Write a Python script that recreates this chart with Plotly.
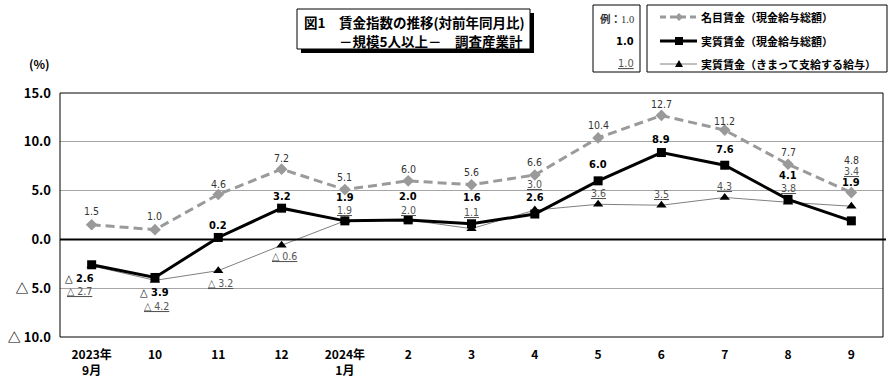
import plotly.graph_objects as go

# ---------------- data ----------------
categories = ["2023年<br>9月", "10", "11", "12", "2024年<br>1月", "2", "3", "4",
              "5", "6", "7", "8", "9"]
nominal = [1.5, 1.0, 4.6, 7.2, 5.1, 6.0, 5.6, 6.6, 10.4, 12.7, 11.2, 7.7, 4.8]
real_total = [-2.6, -3.9, 0.2, 3.2, 1.9, 2.0, 1.6, 2.6, 6.0, 8.9, 7.6, 4.1, 1.9]
real_fixed = [-2.7, -4.2, -3.2, -0.6, 1.9, 2.0, 1.1, 3.0, 3.6, 3.5, 4.3, 3.8, 3.4]
y_tick_vals = [-10, -5, 0, 5, 10, 15]
y_tick_text = ["△ 10.0", "△ 5.0", "0.0", "5.0", "10.0", "15.0"]
series_names = ["名目賃金（現金給与総額）", "実質賃金（現金給与総額）", "実質賃金（きまって支給する給与）"]
title_lines = ["図1　賃金指数の推移(対前年同月比)", "－規模5人以上－　調査産業計"]

# label offsets in pixels (dx, dy) -- layout only
nominal_off = [(0, 14), (0, 14), (0, 11), (0, 11), (0, 13), (0, 12), (0, 13), (0, 13),
               (0, 13), (0, 11), (0, 9), (0, 12), (0, 33)]
total_off = [(-12, -14), (0, -15), (0, 12), (0, 12), (0, 23), (0, 23), (0, 26), (0, 17),
             (0, 16), (0, 13), (0, 16), (0, 24), (0, 38)]
fixed_off = [(-12, -25), (2, -26), (2, -12), (3, -11), (0, 11), (0, 10), (0, 17), (0, 26),
             (0, 11), (0, 11), (0, 11), (0, 14), (0, 35)]

W, H = 890, 390
L, R, T, B = 60, 883, 93, 337
JP = "Noto Sans CJK JP"
NUM = "Liberation Sans Narrow, DejaVu Sans Condensed, Arial Narrow, sans-serif"
GRAY = "#9a9a9a"
LBL = 10.5

x = list(range(len(categories)))


def fmt(v):
    return f"△ {abs(v):.1f}" if v < 0 else f"{v:.1f}"


def px(v):
    return (v - L) / (R - L)


def py(v):
    return (B - v) / (B - T)


fig = go.Figure()
fig.add_trace(go.Scatter(x=x, y=real_fixed, mode="lines+markers", name=series_names[2],
                         line=dict(color="#808080", width=1),
                         marker=dict(symbol="triangle-up", size=9, color="black")))
fig.add_trace(go.Scatter(x=x, y=nominal, mode="lines+markers", name=series_names[0],
                         line=dict(color=GRAY, width=3, dash="9px,5px"),
                         marker=dict(symbol="diamond", size=9, color=GRAY)))
fig.add_trace(go.Scatter(x=x, y=real_total, mode="lines+markers", name=series_names[1],
                         line=dict(color="black", width=3),
                         marker=dict(symbol="square", size=9, color="black")))

ann = []
for i, v in enumerate(nominal):
    dx, dy = nominal_off[i]
    ann.append(dict(x=i, y=v, xref="x", yref="y", text=fmt(v), showarrow=False,
                    xshift=dx, yshift=dy, font=dict(family=NUM, size=LBL, color="#333333")))
for i, v in enumerate(real_total):
    dx, dy = total_off[i]
    ann.append(dict(x=i, y=v, xref="x", yref="y", text="<b>" + fmt(v) + "</b>", showarrow=False,
                    xshift=dx, yshift=dy, font=dict(family=NUM, size=LBL + 0.5, color="black")))
for i, v in enumerate(real_fixed):
    dx, dy = fixed_off[i]
    ann.append(dict(x=i, y=v, xref="x", yref="y", text="<u>" + fmt(v) + "</u>", showarrow=False,
                    xshift=dx, yshift=dy, font=dict(family=NUM, size=LBL, color="#555555")))


def pann(xp, yp, text, size, family=JP, color="black", xanchor="center"):
    return dict(x=px(xp), y=py(yp), xref="paper", yref="paper", text=text, showarrow=False,
                xanchor=xanchor, yanchor="middle", font=dict(family=family, size=size, color=color))


ann.append(pann(39, 64, "<b>(%)</b>", 12))
ann.append(pann(302, 22, "<b>" + title_lines[0] + "</b>", 13.5, xanchor="left"))
ann.append(pann(337, 41, "<b>" + title_lines[1] + "</b>", 13.5, xanchor="left"))
ann.append(pann(636, 18, "<b>例：</b><span style='font-family:Liberation Sans Narrow'>1.0</span>", 10.5,
                color="#333333", xanchor="right"))
ann.append(pann(636, 41, "<b>1.0</b>", 11, family=NUM, xanchor="right"))
ann.append(pann(636, 64, "<u>1.0</u>", 11, family=NUM, color="#555555", xanchor="right"))
for k, yy in zip([0, 1, 2], [17, 41, 64]):
    ann.append(pann(699, yy, "<b>" + series_names[k] + "</b>", 11, xanchor="left"))

shapes = []
shapes.append(dict(type="rect", xref="paper", yref="paper", x0=0, x1=1, y0=0, y1=1,
                   line=dict(color="black", width=1), layer="above"))
shapes.append(dict(type="line", xref="paper", yref="y", x0=0, x1=px(886), y0=0, y1=0,
                   line=dict(color="black", width=2), layer="above"))
# title box with shadow
shapes.append(dict(type="rect", xref="paper", yref="paper", x0=px(301), x1=px(534), y0=py(53), y1=py(13),
                   line=dict(width=0), fillcolor="black"))
shapes.append(dict(type="rect", xref="paper", yref="paper", x0=px(297), x1=px(530), y0=py(49), y1=py(9),
                   line=dict(color="black", width=1), fillcolor="white"))
# example box
shapes.append(dict(type="rect", xref="paper", yref="paper", x0=px(593), x1=px(640), y0=py(72), y1=py(5),
                   line=dict(color="black", width=1), fillcolor="white"))
# legend box
shapes.append(dict(type="rect", xref="paper", yref="paper", x0=px(647), x1=px(887), y0=py(72), y1=py(5),
                   line=dict(color="black", width=1), fillcolor="white"))
# legend samples
shapes.append(dict(type="line", xref="paper", yref="paper", x0=px(660), x1=px(697), y0=py(17), y1=py(17),
                   line=dict(color=GRAY, width=3, dash="6px,4px")))
shapes.append(dict(type="line", xref="paper", yref="paper", x0=px(660), x1=px(697), y0=py(41), y1=py(41),
                   line=dict(color="black", width=3)))
shapes.append(dict(type="line", xref="paper", yref="paper", x0=px(660), x1=px(697), y0=py(64), y1=py(64),
                   line=dict(color="#808080", width=1)))
cx = 679
shapes.append(dict(type="path", xref="paper", yref="paper",
                   path=f"M {px(cx-4)},{py(17)} L {px(cx)},{py(13)} L {px(cx+4)},{py(17)} L {px(cx)},{py(21)} Z",
                   fillcolor=GRAY, line=dict(width=0)))
shapes.append(dict(type="rect", xref="paper", yref="paper", x0=px(cx-4), x1=px(cx+4), y0=py(45), y1=py(37),
                   fillcolor="black", line=dict(width=0)))
shapes.append(dict(type="path", xref="paper", yref="paper",
                   path=f"M {px(cx-4)},{py(67)} L {px(cx)},{py(60)} L {px(cx+4)},{py(67)} Z",
                   fillcolor="black", line=dict(width=0)))

fig.update_layout(
    width=W, height=H,
    margin=dict(l=L, r=W - R, t=T, b=H - B),
    plot_bgcolor="white", paper_bgcolor="white",
    showlegend=False,
    annotations=ann, shapes=shapes,
    xaxis=dict(range=[-0.5, len(categories) - 0.5], tickvals=x, ticktext=["<b>" + c + "</b>" for c in categories],
               showgrid=False, zeroline=False, showline=False, ticks="",
               tickfont=dict(family=JP, size=12, color="black"), ticklabelstandoff=9),
    yaxis=dict(range=[-10, 15], tickvals=y_tick_vals, ticktext=["<b>" + t + "</b>" for t in y_tick_text],
               showgrid=True, gridcolor="#a6a6a6", gridwidth=1, zeroline=False, showline=False, ticks="",
               tickfont=dict(family=JP, size=13, color="black"), ticklabelstandoff=8),
)

fig.write_html("out.html", config={"displayModeBar": False},
               post_script="document.body.style.margin='0px';document.body.style.padding='0px';")
